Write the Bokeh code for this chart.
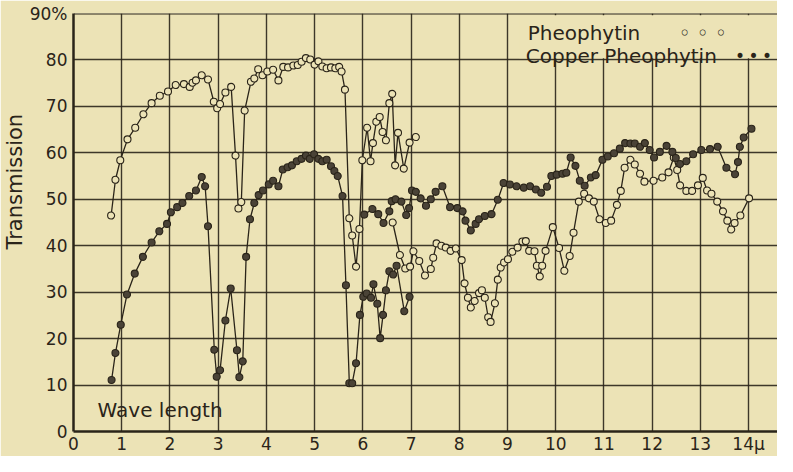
from bokeh.plotting import figure
from bokeh.models import FixedTicker, Label, BoxAnnotation, Span, Range1d, Title
from bokeh.embed import file_html
from bokeh.resources import INLINE

# ---------------- data (wave length in microns, transmission in %) ----------------
pheo_thin_x = [0.78, 0.87, 0.97, 1.12, 1.28, 1.45, 1.62, 1.79, 1.96, 2.12, 2.29, 2.41, 2.47, 2.54,
               2.66, 2.79, 2.91, 2.98, 3.04, 3.15, 3.27, 3.36, 3.42, 3.48, 3.55, 3.68, 3.75, 3.83,
               3.92, 4.02, 4.14, 4.25, 4.35, 4.45, 4.56, 4.65, 4.73, 4.82, 4.91, 5.00, 5.08, 5.16,
               5.25, 5.34, 5.43, 5.51, 5.56, 5.63, 5.72, 5.78, 5.86, 5.93, 5.99, 6.09, 6.16, 6.21,
               6.28, 6.35, 6.41, 6.48, 6.55, 6.61, 6.67, 6.73, 6.85, 6.97, 7.10]
pheo_thin_y = [46.5, 54.2, 58.4, 62.9, 65.4, 68.3, 70.7, 72.3, 73.2, 74.6, 74.8, 74.2, 75.1, 75.6,
               76.7, 75.8, 71.0, 69.6, 70.5, 73.0, 74.2, 59.4, 48.0, 49.4, 69.1, 75.3, 76.0, 78.0,
               76.7, 77.5, 77.9, 75.6, 78.5, 78.4, 78.8, 78.9, 79.6, 80.4, 80.1, 79.0, 79.7, 78.6,
               78.2, 78.4, 78.2, 78.5, 77.5, 73.6, 45.9, 42.2, 35.5, 43.6, 58.4, 65.4, 58.2, 62.1,
               66.7, 67.7, 64.5, 62.7, 70.7, 72.7, 57.3, 64.3, 56.6, 62.2, 63.4]

pheo_thick_x = [6.62, 6.77, 6.88, 6.98, 7.05, 7.17, 7.29, 7.41, 7.46, 7.53, 7.63, 7.72, 7.82, 7.93,
                8.05, 8.11, 8.18, 8.24, 8.32, 8.41, 8.47, 8.53, 8.60, 8.65, 8.74, 8.80, 8.86, 8.93,
                9.01, 9.10, 9.21, 9.31, 9.38, 9.45, 9.56, 9.61, 9.67, 9.72, 9.79, 9.94, 10.07, 10.18,
                10.29, 10.37, 10.48, 10.59, 10.69, 10.79, 10.91, 11.04, 11.15, 11.27, 11.35, 11.43,
                11.55, 11.64, 11.75, 11.84, 12.03, 12.21, 12.34, 12.45, 12.52, 12.58, 12.71, 12.83,
                12.95, 13.05, 13.14, 13.23, 13.35, 13.47, 13.56, 13.64, 13.71, 13.83, 14.01]
pheo_thick_y = [45.0, 38.0, 35.1, 35.5, 38.8, 36.7, 33.6, 35.0, 37.4, 40.5, 40.0, 39.6, 38.9, 39.4,
                36.9, 31.9, 28.8, 26.7, 28.1, 29.8, 30.4, 28.8, 24.6, 23.6, 27.6, 32.7, 35.3, 36.4,
                37.1, 38.7, 39.6, 40.9, 41.0, 38.9, 38.8, 35.7, 33.4, 35.7, 38.9, 44.0, 39.5, 34.6,
                37.8, 42.8, 49.5, 51.2, 50.2, 49.5, 45.7, 44.9, 45.4, 48.8, 51.8, 56.8,
                58.5, 57.5, 55.5, 53.8, 54.0, 54.7, 55.8, 59.0, 56.3, 53.0, 51.8, 51.8,
                53.0, 54.6, 51.9, 51.2, 49.5, 47.4, 45.4, 43.5, 44.9, 46.5, 50.2]

copper_low_x = [0.79, 0.87, 0.98, 1.11, 1.27, 1.44, 1.62, 1.78, 1.94, 2.02, 2.15, 2.26, 2.40, 2.54,
                2.66, 2.73, 2.79, 2.92, 2.97, 3.04, 3.15, 3.26, 3.39, 3.44, 3.51, 3.58, 3.66, 3.75,
                3.84, 3.93, 4.05, 4.14, 4.25, 4.34, 4.44, 4.53, 4.63, 4.73, 4.82, 4.90, 4.99, 5.08,
                5.16, 5.25, 5.34, 5.41, 5.48, 5.58, 5.65, 5.72, 5.78, 5.86, 5.94, 6.01, 6.08, 6.17,
                6.22, 6.30, 6.36, 6.42, 6.48, 6.55, 6.63, 6.70, 6.86, 6.97]
copper_low_y = [11.1, 16.9, 23.0, 29.5, 34.0, 37.6, 40.7, 43.1, 44.7, 47.2, 48.3, 49.2, 50.7, 51.9,
                54.8, 52.8, 44.2, 17.6, 11.8, 13.2, 23.9, 30.8, 17.5, 11.7, 15.1, 37.6, 45.7, 49.2,
                50.9, 51.9, 53.2, 54.0, 52.8, 56.4, 56.9, 57.3, 58.2, 58.7, 59.4, 58.7, 59.7, 58.7,
                58.2, 58.5, 57.1, 56.1, 55.0, 50.7, 31.5, 10.4, 10.4, 14.7, 25.1, 29.0, 29.7, 28.8,
                31.7, 27.5, 20.1, 25.1, 30.4, 34.5, 33.8, 35.7, 25.9, 29.0]

copper_high_x = [6.03, 6.20, 6.32, 6.43, 6.55, 6.60, 6.68, 6.80, 6.90, 6.96, 7.02, 7.10, 7.20, 7.31,
                 7.41, 7.51, 7.65, 7.81, 7.96, 8.07, 8.13, 8.24, 8.34, 8.41, 8.53, 8.67, 8.80, 8.92,
                 9.05, 9.19, 9.34, 9.47, 9.59, 9.70, 9.82, 9.91, 10.02, 10.14, 10.22, 10.31, 10.41,
                 10.50, 10.60, 10.73, 10.83, 10.97, 11.08, 11.21, 11.33, 11.44, 11.55, 11.64, 11.75,
                 11.85, 11.95, 12.04, 12.16, 12.30, 12.42, 12.49, 12.58, 12.71, 12.85, 13.02, 13.20,
                 13.36, 13.54, 13.72, 13.78, 13.82, 13.90, 14.06]
copper_high_y = [46.7, 47.9, 46.8, 44.9, 47.4, 49.6, 50.0, 49.5, 46.6, 48.1, 51.9, 51.6, 50.2, 48.6,
                 50.0, 51.6, 52.8, 48.3, 48.1, 47.4, 45.4, 43.3, 44.7, 45.7, 46.4, 46.8, 49.9, 53.5,
                 53.2, 52.8, 52.5, 52.8, 52.1, 51.4, 52.7, 55.0, 55.3, 55.5, 55.7, 59.0, 57.2,
                 54.0, 52.9, 54.7, 55.2, 58.5, 59.2, 59.9, 60.9, 62.1, 62.0, 62.0, 61.3,
                 62.1, 60.6, 59.0, 60.2, 61.5, 60.2, 58.9, 57.6, 58.2, 59.7, 60.6, 60.8,
                 61.3, 56.8, 55.4, 58.0, 61.3, 63.3, 65.2]

x_ticks = list(range(0, 15))
y_ticks = list(range(0, 100, 10))
x_tick_labels = {14: "14\u03bc"}
y_tick_labels = {90: "90%"}

series_names = ["Pheophytin", "Copper Pheophytin"]
series_marks = ["\u25e6 \u25e6 \u25e6", "\u2022\u2009\u2022\u2009\u2022"]
y_title = "Transmission"
x_title = "Wave length"

# ---------------- styling ----------------
BG = "#ece3b6"
INK = "#2a2419"
DOT = "#4a4337"
FONT = "DejaVu Sans"

p = figure(width=777, height=456, output_backend="svg", toolbar_location=None,
           x_range=Range1d(0, 14.6), y_range=Range1d(0, 90),
           min_border_left=72, min_border_right=0, min_border_top=13, min_border_bottom=22,
           background_fill_color=BG, border_fill_color=BG)
p.outline_line_color = None

p.xgrid.ticker = FixedTicker(ticks=x_ticks)
p.ygrid.ticker = FixedTicker(ticks=y_ticks)
for g in (p.xgrid, p.ygrid):
    g.grid_line_color = INK
    g.grid_line_width = 1.4
    g.grid_line_alpha = 0.9

for ax in (p.xaxis, p.yaxis):
    ax.axis_line_color = INK
    ax.axis_line_width = 2.5
    ax.major_tick_out = 0
    ax.major_tick_in = 0
    ax.minor_tick_out = 0
    ax.minor_tick_in = 0
    ax.major_label_text_font = FONT
    ax.major_label_text_font_size = "17px"
    ax.major_label_text_color = INK

p.xaxis.ticker = FixedTicker(ticks=x_ticks)
p.yaxis.ticker = FixedTicker(ticks=y_ticks)
p.xaxis.major_label_overrides = x_tick_labels
p.yaxis.major_label_overrides = y_tick_labels
p.xaxis.major_label_standoff = 2
p.yaxis.major_label_standoff = 6

p.add_layout(Title(text=y_title, align="left", offset=182, text_font=FONT,
                   text_font_size="21px", text_font_style="normal", text_color=INK,
                   standoff=0), "left")

p.add_layout(Span(location=90, dimension="width", line_color=INK, line_width=2))

# legend panel (blank area over the grid)
p.add_layout(BoxAnnotation(left=9.25, right=14.6, bottom=80.35, top=89.6,
                           fill_color=BG, fill_alpha=1.0, line_color=None))

# ---------------- data lines ----------------
for xs, ys in [(pheo_thin_x, pheo_thin_y), (copper_low_x, copper_low_y),
               (pheo_thick_x, pheo_thick_y), (copper_high_x, copper_high_y)]:
    p.line(xs, ys, line_color=INK, line_width=1.3)
for xs, ys, filled in [(pheo_thin_x, pheo_thin_y, False),
                       (pheo_thick_x, pheo_thick_y, False),
                       (copper_low_x, copper_low_y, True),
                       (copper_high_x, copper_high_y, True)]:
    p.scatter(xs, ys, marker="circle", size=7,
              fill_color=(DOT if filled else BG), line_color=INK, line_width=1.1)

# ---------------- texts ----------------
def lab(**kw):
    base = dict(text_font=FONT, text_color=INK)
    base.update(kw)
    p.add_layout(Label(**base))

lab(x=0.5, y=4.6, text=x_title, text_font_size="20px", text_baseline="alphabetic")
lab(x=9.42, y=85.8, text=series_names[0], text_font_size="20px", text_baseline="alphabetic")
lab(x=12.55, y=85.9, text=series_marks[0], text_font_size="20px", text_baseline="alphabetic")
lab(x=9.38, y=80.8, text=series_names[1], text_font_size="20px", text_baseline="alphabetic")
lab(x=13.72, y=80.8, text=series_marks[1], text_font_size="17px", text_baseline="alphabetic")

open("out.html", "w").write(file_html(p, INLINE))
